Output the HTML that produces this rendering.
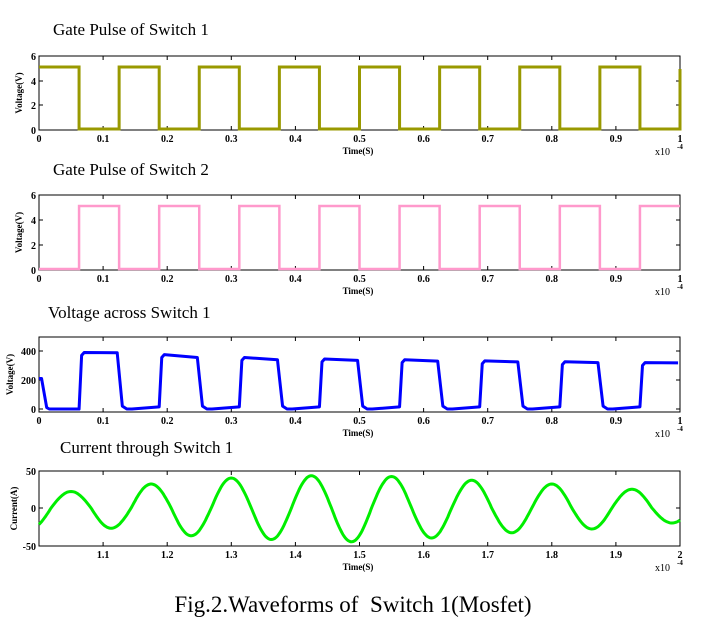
<!DOCTYPE html>
<html><head><meta charset="utf-8"><style>
body{margin:0;background:#fff;width:707px;height:624px;overflow:hidden}
text{font-family:"Liberation Serif",serif}
.t{font-size:17px}
.k{font-size:10px;font-weight:bold}
</style></head><body>
<svg id="s" width="707" height="624" xmlns="http://www.w3.org/2000/svg">
<text class="t" x="53" y="35">Gate Pulse of Switch 1</text>
<text class="t" x="53" y="175">Gate Pulse of Switch 2</text>
<text class="t" x="48" y="318">Voltage across Switch 1</text>
<text class="t" x="60" y="453">Current through Switch 1</text>
<text x="353" y="612" text-anchor="middle" style="font-size:23px">Fig.2.Waveforms of&#160; Switch 1(Mosfet)</text>
<g id="g"></g>
</svg>
<script>
var g=document.getElementById('g'),h='';
var L=39,R=680,W=R-L;
function axes(top,bot,yt,xl,ylab,lx){
 h+='<rect x="'+L+'" y="'+top+'" width="'+W+'" height="'+(bot-top)+'" fill="none" stroke="#000" stroke-width="1"/>';
 for(var i=0;i<xl.length;i++){var x=L+W*i/(xl.length-1);
  h+='<line x1="'+x+'" x2="'+x+'" y1="'+top+'" y2="'+(top+4)+'" stroke="#000"/><line x1="'+x+'" x2="'+x+'" y1="'+bot+'" y2="'+(bot-4)+'" stroke="#000"/>';
  if(xl[i]!=='')h+='<text class="k" x="'+x+'" y="'+(bot+12)+'" text-anchor="middle">'+xl[i]+'</text>';}
 yt.forEach(function(a){h+='<line x1="'+L+'" x2="'+(L+4)+'" y1="'+a[1]+'" y2="'+a[1]+'" stroke="#000"/><line x1="'+R+'" x2="'+(R-4)+'" y1="'+a[1]+'" y2="'+a[1]+'" stroke="#000"/><text class="k" x="'+(L-3)+'" y="'+(a[1]+4)+'" text-anchor="end">'+a[0]+'</text>';});
 h+='<text class="k" x="358" y="'+(bot+24)+'" text-anchor="middle" style="font-size:9px">Time(S)</text>';
 h+='<text class="k" x="655" y="'+(bot+25)+'" style="font-weight:normal">x10</text><text x="677" y="'+(bot+19)+'" style="font-size:7px;font-weight:bold">-4</text>';
 h+='<text class="k" transform="translate('+lx+','+((top+bot)/2)+') rotate(-90)" text-anchor="middle" style="font-size:9px">'+ylab+'</text>';
}
var x1=['0','0.1','0.2','0.3','0.4','0.5','0.6','0.7','0.8','0.9','1'];
var x4=['','1.1','1.2','1.3','1.4','1.5','1.6','1.7','1.8','1.9','2'];
axes(56,130,[['6',56],['4',81],['2',105],['0',130]],x1,'Voltage(V)',22);
axes(195,270,[['6',195],['4',220],['2',245],['0',270]],x1,'Voltage(V)',22);
axes(337,412,[['400',351],['200',380],['0',409]],x1,'Voltage(V)',13);
axes(471,546,[['50',471],['0',508],['-50',546]],x4,'Current(A)',17);
function X(t){return L+W*t}
function gateP(top,bot,ph){var hi=top+11,lo=bot-1,p='M'+L+' '+(ph?lo:hi);for(var i=0;i<16;i++){var t=i*0.0625;var on=((i%2==0)!=ph);var y=on?hi:lo;var x=X(t),x2=X(Math.min(1,t+0.0625));p+=' L'+x+' '+y+' L'+x2+' '+y;}return p;}
h+='<path d="'+gateP(56,130,false)+' L'+R+' 69" fill="none" stroke="#999900" stroke-width="3"/>';
h+='<path d="'+gateP(195,270,true)+'" fill="none" stroke="#ff99cc" stroke-width="2.5"/>';
var hs=[390,375,355,345,340,332,326,320],he=[388,355,340,335,330,325,320,318];
function vy(v){return 409-v*0.145}
var p='M'+X(0)+' '+vy(210)+' L'+X(0.004)+' '+vy(210)+' L'+X(0.012)+' '+vy(10)+' L'+X(0.016)+' '+vy(0);
for(var i=0;i<8;i++){var a=0.0625+i*0.125,b=a+0.0625;
 p+=' L'+X(a)+' '+vy(i==0?0:15)+' L'+X(a+0.004)+' '+vy(hs[i]-20)+' L'+X(a+0.008)+' '+vy(hs[i])+' L'+X(b-0.003)+' '+vy(he[i]);
 if(b<1){p+=' L'+X(b+0.005)+' '+vy(20)+' L'+X(b+0.012)+' '+vy(0)+' L'+X(b+0.02)+' '+vy(0)+' L'+X(b+0.055)+' '+vy(12);}}
h+='<path d="'+p+'" fill="none" stroke="#0000ff" stroke-width="3" stroke-linejoin="round"/>';
var pk=[22,32,40,43,42,37,32,25],tr=[-27,-37,-42,-45,-40,-33,-28,-20];
function cy(v){return 508-v*0.75}
p='';
for(var t=0;t<=1.0001;t+=0.002){var ph=(t-0.05)/0.125;var c=Math.cos(2*Math.PI*ph);
 var ip=Math.max(0,Math.min(7,Math.round(ph))),it=Math.max(0,Math.min(7,Math.floor(ph)));
 var v=c>0?c*pk[ip]:-c*tr[it];
 p+=(p?'L':'M')+X(t).toFixed(1)+' '+cy(v).toFixed(1)+' ';}
h+='<path d="'+p+'" fill="none" stroke="#00ee00" stroke-width="3"/>';
g.innerHTML=h;
</script>
</body></html>
